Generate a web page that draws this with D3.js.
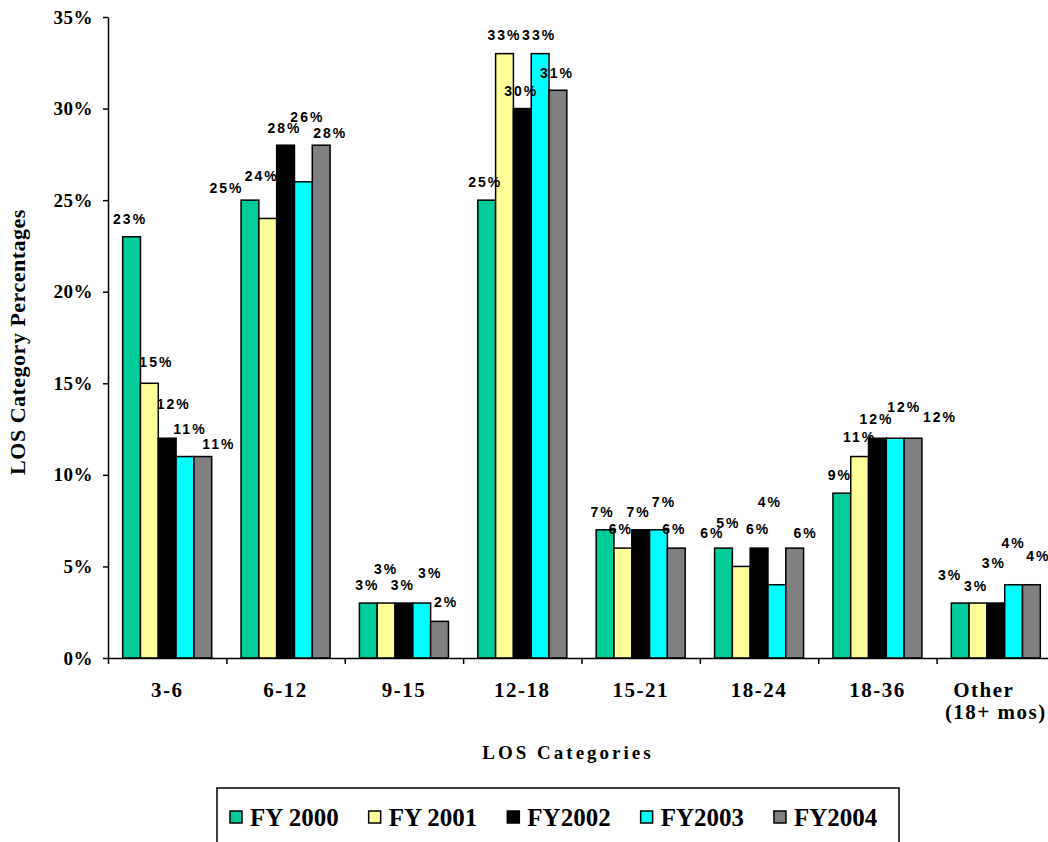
<!DOCTYPE html>
<html>
<head>
<meta charset="utf-8">
<script src="https://cdn.jsdelivr.net/npm/d3@7"></script>
<style>
  html, body { margin: 0; padding: 0; background: #fff; }
  svg { display: block; }
</style>
</head>
<body>
<svg id="chart" width="1048" height="842"></svg>
<script>
// ---- data -------------------------------------------------------------
const categories = ["3-6", "6-12", "9-15", "12-18", "15-21", "18-24", "18-36", "Other\n(18+ mos)"];
const seriesNames = ["FY 2000", "FY 2001", "FY2002", "FY2003", "FY2004"];
const fy2000 = [23, 25, 3, 25, 7, 6, 9, 3];
const fy2001 = [15, 24, 3, 33, 6, 5, 11, 3];
const fy2002 = [12, 28, 3, 30, 7, 6, 12, 3];
const fy2003 = [11, 26, 3, 33, 7, 4, 12, 4];
const fy2004 = [11, 28, 2, 31, 6, 6, 12, 4];
const yTicks = [0, 5, 10, 15, 20, 25, 30, 35];

// ---- appearance -------------------------------------------------------
const seriesColors = ["#00CC99", "#FFFF99", "#000000", "#00FFFF", "#808080"];
// hand-placed data label offsets [dx, lift above bar top], per series and category
const labelNudge = [
  [[-1.5, 13], [-23.5, 7], [-1, 13], [-1.5, 13], [-2.5, 13], [-11, 10], [-2, 13], [-10, 23]],
  [[7, 16], [-6, 37], [0, 29], [0, 14], [-2, 14], [-13, 38], [0, 15], [-2, 12]],
  [[6.5, 29], [-1, 12], [-1, 13], [-1, 13], [-2, 13], [-1, 14], [-1, 14], [-2, 35]],
  [[5, 23], [4, 60], [8.5, 25], [-1, 14], [5.5, 23], [-7, 78], [9, 26], [0, 37]],
  [[16, 8], [9, 7], [6.5, 14], [-1, 12], [-2, 14], [11, 10], [27, 16], [7, 24]]
];

const seriesValues = [fy2000, fy2001, fy2002, fy2003, fy2004];
const rows = categories.map((c, i) => ({
  cat: c,
  vals: seriesNames.map((s, k) => ({ s, k, i, v: seriesValues[k][i] }))
}));

const svg = d3.select("#chart");
const plotLeft = 108, plotRight = 1055, plotTop = 17, plotBottom = 658;
const serif = "'Liberation Serif', 'Times New Roman', serif";
const sans = "'Liberation Sans', Arial, sans-serif";

const x0 = d3.scaleBand().domain(categories).range([plotLeft, plotRight]).padding(0);
const groupPad = x0.bandwidth() * 0.124;
const x1 = d3.scaleBand().domain(seriesNames).range([groupPad, x0.bandwidth() - groupPad]).padding(0);
const y = d3.scaleLinear().domain([0, 35]).range([plotBottom, plotTop]);
const xEdge = d3.scaleLinear().domain([0, categories.length]).range([plotLeft, plotRight]);

// ---- bars -------------------------------------------------------------
const groups = svg.append("g").selectAll("g.cat")
  .data(rows).join("g")
  .attr("class", "cat")
  .attr("transform", d => `translate(${x0(d.cat)},0)`);

groups.selectAll("rect")
  .data(d => d.vals).join("rect")
  .attr("x", d => x1(d.s))
  .attr("y", d => y(d.v))
  .attr("width", x1.bandwidth())
  .attr("height", d => y(0) - y(d.v))
  .attr("fill", d => seriesColors[d.k])
  .attr("stroke", "#000")
  .attr("stroke-width", 1.5);

// ---- axes -------------------------------------------------------------
const yAxis = svg.append("g")
  .attr("transform", `translate(${plotLeft},0)`)
  .call(d3.axisLeft(y).tickValues(yTicks).tickFormat(d => d + "%").tickSize(5).tickSizeOuter(0).tickPadding(10));
yAxis.select(".domain").attr("stroke", "#000").attr("stroke-width", 1.5);
yAxis.selectAll(".tick line").attr("stroke", "#000").attr("stroke-width", 1.5);
yAxis.selectAll(".tick text")
  .attr("font-family", serif).attr("font-weight", "bold").attr("font-size", 19)
  .attr("letter-spacing", 0.5)
  .attr("fill", "#000");

const xAxis = svg.append("g")
  .attr("transform", `translate(0,${plotBottom})`)
  .call(d3.axisBottom(xEdge).tickValues(d3.range(categories.length + 1)).tickFormat("").tickSize(6).tickSizeOuter(0));
xAxis.select(".domain").attr("stroke", "#000").attr("stroke-width", 1.5);
xAxis.selectAll(".tick line").attr("stroke", "#000").attr("stroke-width", 1.5);

const xLabels = svg.append("g")
  .attr("transform", `translate(0,${plotBottom})`)
  .call(d3.axisBottom(x0).tickSize(0).tickPadding(0).tickFormat(""));
xLabels.select(".domain").remove();
xLabels.selectAll(".tick").each(function (c) {
  const lines = c.split("\n");
  const t = d3.select(this).append("text")
    .attr("font-family", serif).attr("font-weight", "bold").attr("font-size", 21)
    .attr("letter-spacing", 1.5)
    .attr("fill", "#000").attr("text-anchor", "middle");
  lines.forEach((ln, j) => {
    t.append("tspan").attr("x", j === 0 && lines.length > 1 ? -12 : 0)
      .attr("y", 39 + j * 22).text(ln);
  });
});

// ---- data labels ------------------------------------------------------
groups.selectAll("text.val")
  .data(d => d.vals).join("text")
  .attr("class", "val")
  .attr("x", d => x1(d.s) + x1.bandwidth() / 2 + labelNudge[d.k][d.i][0])
  .attr("y", d => y(d.v) - labelNudge[d.k][d.i][1])
  .attr("text-anchor", "middle")
  .attr("font-family", sans).attr("font-weight", "bold").attr("font-size", 14)
  .attr("letter-spacing", 2)
  .attr("fill", "#000")
  .text(d => d.v + "%");

// ---- axis titles ------------------------------------------------------
svg.append("text")
  .attr("transform", "translate(25,342) rotate(-90)")
  .attr("text-anchor", "middle")
  .attr("font-family", serif).attr("font-weight", "bold").attr("font-size", 22)
  .attr("letter-spacing", 0.5)
  .attr("fill", "#000")
  .text("LOS Category Percentages");

svg.append("text")
  .attr("x", 568).attr("y", 759)
  .attr("text-anchor", "middle")
  .attr("font-family", serif).attr("font-weight", "bold").attr("font-size", 19)
  .attr("letter-spacing", 3)
  .attr("fill", "#000")
  .text("LOS Categories");

// ---- legend -----------------------------------------------------------
const legend = svg.append("g");
legend.append("rect")
  .attr("x", 217).attr("y", 788).attr("width", 682).attr("height", 80)
  .attr("fill", "#fff").attr("stroke", "#000").attr("stroke-width", 1.5);

let lx = 230;
seriesNames.forEach((name, k) => {
  const item = legend.append("g").attr("transform", `translate(${lx},0)`);
  item.append("rect")
    .attr("x", 0).attr("y", 811).attr("width", 12).attr("height", 12)
    .attr("fill", seriesColors[k]).attr("stroke", "#000").attr("stroke-width", 1.5);
  const t = item.append("text")
    .attr("x", 20).attr("y", 826)
    .attr("font-family", serif).attr("font-weight", "bold").attr("font-size", 25)
    .attr("fill", "#000")
    .text(name);
  lx += 20 + t.node().getComputedTextLength() + 30;
});
</script>
</body>
</html>
